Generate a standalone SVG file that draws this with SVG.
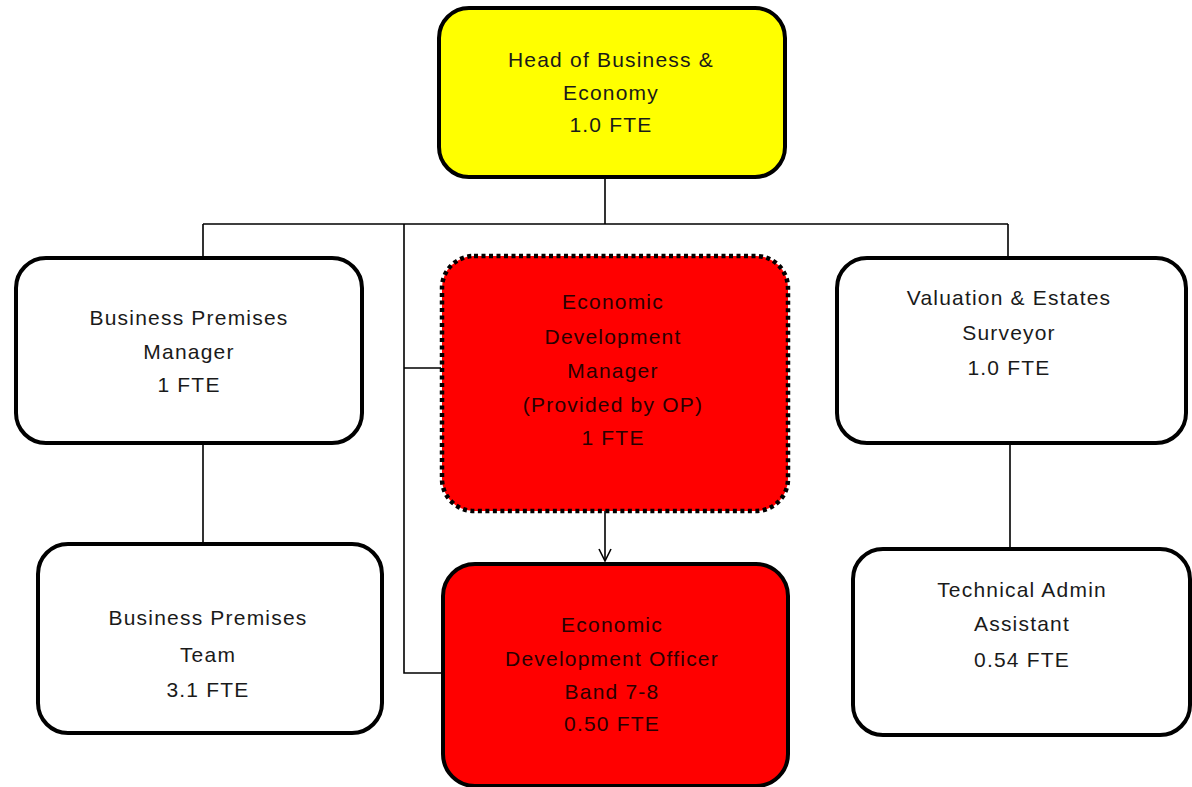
<svg xmlns="http://www.w3.org/2000/svg" width="1192" height="787" viewBox="0 0 1192 787">
<defs>
<marker id="arr" viewBox="0 0 16 16" refX="14" refY="8" markerWidth="16" markerHeight="16" markerUnits="userSpaceOnUse" orient="auto">
<path d="M2,2 L14,8 L2,14" fill="none" stroke="#000" stroke-width="1.6"/>
</marker>
<style>
.box{stroke:#000;stroke-width:4}
.w{fill:#fff}
.y{fill:#ffff00}
.r{fill:#ff0000}
.dot{stroke-dasharray:4 3.5;stroke-width:4.5}
.ln{stroke:#000;stroke-width:1.6;fill:none}
text{font-family:"Liberation Sans",Arial,sans-serif;font-size:21px;letter-spacing:1.2px;text-anchor:middle;fill:#1a1a1a}
.rt{fill:#2a0000}
</style>
</defs>
<rect width="1192" height="787" fill="#fff"/>
<g id="connectors">
<path class="ln" d="M605,177 V224 M203,224 H1008 M203,224 V257 M1008,224 V257 M404,224 V673 H442 M404,368 H441 M203,443 V543 M1010,443 V548"/>
<path class="ln" d="M605,511 V561" marker-end="url(#arr)"/>
</g>
<g id="head">
<rect class="box y" x="439" y="8" width="346" height="169" rx="30"/>
<text x="611" y="67">Head of Business &amp;</text>
<text x="611" y="100">Economy</text>
<text x="611" y="132">1.0 FTE</text>
</g>
<g id="bpm">
<rect class="box w" x="16" y="258" width="346" height="185" rx="30"/>
<text x="189" y="325">Business Premises</text>
<text x="189" y="359">Manager</text>
<text x="189" y="392">1 FTE</text>
</g>
<g id="edm">
<rect class="box r dot" x="442" y="256" width="346" height="255" rx="32"/>
<text class="rt" x="613" y="309">Economic</text>
<text class="rt" x="613" y="344">Development</text>
<text class="rt" x="613" y="378">Manager</text>
<text class="rt" x="613" y="412">(Provided by OP)</text>
<text class="rt" x="613" y="445">1 FTE</text>
</g>
<g id="valuation">
<rect class="box w" x="837" y="258" width="349" height="185" rx="30"/>
<text x="1009" y="305">Valuation &amp; Estates</text>
<text x="1009" y="340">Surveyor</text>
<text x="1009" y="375">1.0 FTE</text>
</g>
<g id="bpt">
<rect class="box w" x="38" y="544" width="344" height="189" rx="30"/>
<text x="208" y="625">Business Premises</text>
<text x="208" y="662">Team</text>
<text x="208" y="697">3.1 FTE</text>
</g>
<g id="edo">
<rect class="box r" x="443" y="564" width="345" height="222" rx="32"/>
<text class="rt" x="612" y="632">Economic</text>
<text class="rt" x="612" y="666">Development Officer</text>
<text class="rt" x="612" y="699">Band 7-8</text>
<text class="rt" x="612" y="731">0.50 FTE</text>
</g>
<g id="tech">
<rect class="box w" x="853" y="549" width="337" height="186" rx="30"/>
<text x="1022" y="597">Technical Admin</text>
<text x="1022" y="631">Assistant</text>
<text x="1022" y="667">0.54 FTE</text>
</g>
</svg>
